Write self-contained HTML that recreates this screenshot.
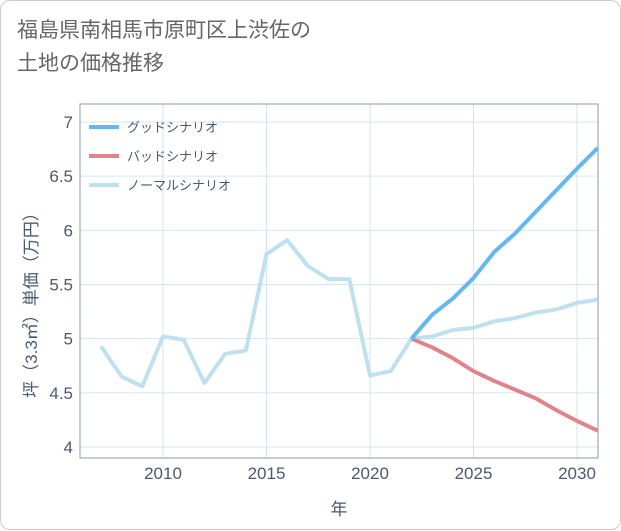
<!DOCTYPE html>
<html><head><meta charset="utf-8"><style>
body{margin:0;background:#fff;}
#card{position:absolute;left:0;top:0;width:619px;height:528px;border:1px solid #ccc;border-radius:10px;background:#fff;font-family:"Liberation Sans","Noto Sans CJK JP",sans-serif;}
#title{position:absolute;left:16px;top:13px;font-size:21px;line-height:33px;color:#666;}
</style></head><body>
<div id="card">
<div id="title">福島県南相馬市原町区上渋佐の<br>土地の価格推移</div>
<svg id="chart" width="621" height="530" style="position:absolute;left:0;top:0"></svg>
</div>
<script>
const years=[2007,2008,2009,2010,2011,2012,2013,2014,2015,2016,2017,2018,2019,2020,2021,2022,2023,2024,2025,2026,2027,2028,2029,2030,2031];
const normalVals=[4.93,4.65,4.56,5.02,4.99,4.59,4.86,4.89,5.78,5.91,5.67,5.55,5.55,4.66,4.70,5.0,5.02,5.08,5.10,5.16,5.19,5.24,5.27,5.33,5.36];
const forecastYears=[2022,2023,2024,2025,2026,2027,2028,2029,2030,2031];
const goodVals=[5.0,5.22,5.37,5.56,5.80,5.97,6.17,6.37,6.57,6.76];
const badVals=[5.0,4.92,4.82,4.70,4.61,4.53,4.45,4.34,4.24,4.15];
const xTicks=[2010,2015,2020,2025,2030];
const yTicks=[4,4.5,5,5.5,6,6.5,7];
const yTickLabels=["4","4.5","5","5.5","6","6.5","7"];
const legendLabels=["グッドシナリオ","バッドシナリオ","ノーマルシナリオ"];
const colors=["#63b8f0","#e0848c","#bfe0ee"];

const L=79,R=597,T=103,B=457;
const x=y=>162+(y-2010)*20.7;
const yv=v=>121+(7-v)*108.33;
const svg=document.getElementById('chart');
const NS='http://www.w3.org/2000/svg';
function mk(t,a,p){const e=document.createElementNS(NS,t);for(const k in a)e.setAttribute(k,a[k]);(p||svg).appendChild(e);return e;}
const defs=mk('defs',{});const cp=mk('clipPath',{id:'clip'},defs);mk('rect',{x:L,y:T,width:R-L,height:B-T},cp);
xTicks.forEach(t=>{const g=mk('line',{x1:x(t),x2:x(t),y1:T,y2:B,stroke:'#d3e6f0','stroke-width':1});

const tx=mk('text',{x:x(t),y:478,'text-anchor':'middle','font-size':17,fill:'#4a5a70'});tx.textContent=t;
});
yTicks.forEach((t,i)=>{const g=mk('line',{x1:L,x2:R,y1:yv(t),y2:yv(t),stroke:'#d3e6f0','stroke-width':1});

const tx=mk('text',{x:72,y:yv(t)+6,'text-anchor':'end','font-size':17,fill:'#4a5a70'});tx.textContent=yTickLabels[i];
});
const fr=mk('rect',{x:L,y:T,width:R-L,height:B-T,fill:'none',stroke:'#8a98a8','stroke-width':1});

function line(xs,vs,c,name){const p=mk('polyline',{points:xs.map((a,i)=>x(a)+','+yv(vs[i])).join(' '),fill:'none',stroke:c,'stroke-width':4,'stroke-linejoin':'round','clip-path':'url(#clip)'});
}
line(years,normalVals,colors[2],'normal-scenario-line');
line(forecastYears,badVals,colors[1],'bad-scenario-line');
line(forecastYears,goodVals,colors[0],'good-scenario-line');
legendLabels.forEach((lb,i)=>{const yy=126+i*29;
const l=mk('line',{x1:88,x2:118,y1:yy,y2:yy,stroke:colors[i],'stroke-width':4});

const t=mk('text',{x:126,y:yy+5,'font-size':13,fill:'#4a5a70'});t.textContent=lb;
});
const xt=mk('text',{x:338,y:514,'text-anchor':'middle','font-size':17,fill:'#4a5a70'});xt.textContent='年';

const yt=mk('text',{x:0,y:0,'text-anchor':'middle','font-size':17,fill:'#4a5a70',transform:'translate(36,300) rotate(-90)'});yt.textContent='坪（3.3㎡）単価（万円）';

</script>
</body></html>
